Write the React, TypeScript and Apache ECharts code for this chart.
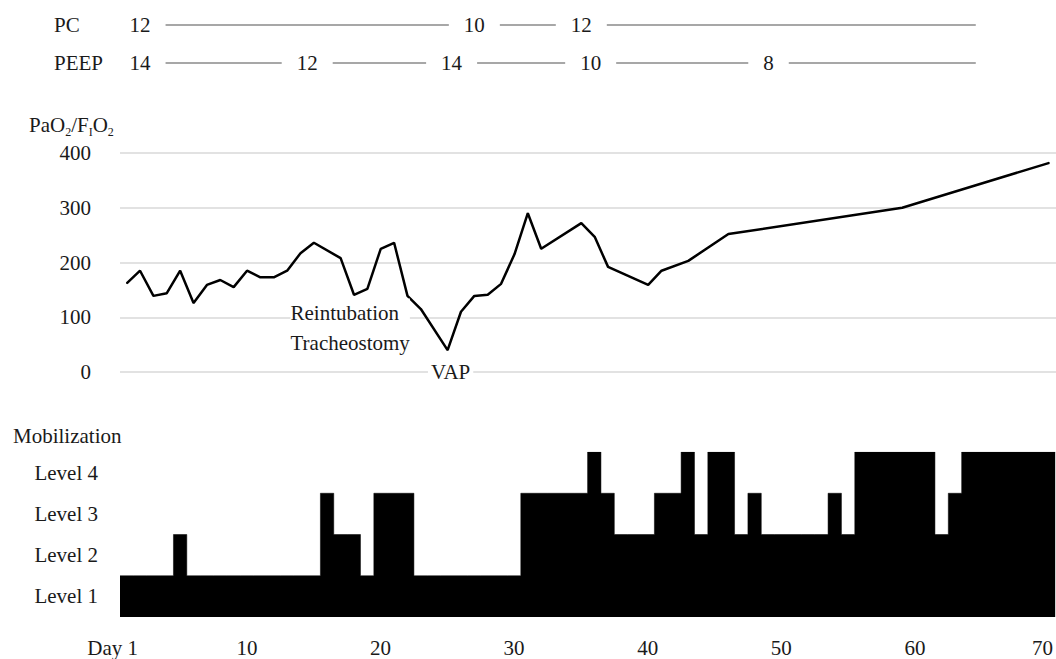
import React, { useEffect, useRef } from "react";
import * as echarts from "echarts";

const FONT = "'Liberation Serif', 'Times New Roman', serif";
const TEXT = "#1a1a1a";

// ---- data ----
const dayCategories = Array.from({ length: 70 }, (_, i) => String(i + 1));
const tickDays = [1, 10, 20, 30, 40, 50, 60, 70];

// PaO2/FiO2 per day (null = no vertex that day)
const pfRatio: (number | null)[] = [
  162, 185, 139, 144, 185, 126, 159, 168, 155, 185,
  173, 173, 185, 217, 236, null, 208, 141, 152, 225,
  236, 139, 115, null, 40, 110, 139, 141, 161, 215,
  290, 225, null, null, 272, 247, 192, null, null, 159,
  185, null, 203, null, null, 252, null, null, null, null,
  null, null, null, null, null, null, null, null, 300, null,
  null, null, null, null, null, null, null, null, null, 382,
];

// mobilization level per day
const mobilization = [
  1, 1, 1, 1, 2, 1, 1, 1, 1, 1,
  1, 1, 1, 1, 1, 3, 2, 2, 1, 3,
  3, 3, 1, 1, 1, 1, 1, 1, 1, 1,
  3, 3, 3, 3, 3, 4, 3, 2, 2, 2,
  3, 3, 4, 2, 4, 4, 2, 3, 2, 2,
  2, 2, 2, 3, 2, 4, 4, 4, 4, 4,
  4, 2, 3, 4, 4, 4, 4, 4, 4, 4,
];
const levelLabels = ["Level 1", "Level 2", "Level 3", "Level 4"];

// ventilator settings timeline (day where each setting starts)
const pcChangeDays = [2, 27, 35];
const pcSettings = [12, 10, 12];
const peepChangeDays = [2, 14.5, 25.3, 35.7, 49];
const peepSettings = [14, 12, 14, 10, 8];
const ventTimelineEnd = 64.5;

// annotations attached to days
const annotations = [
  { day: 22, text: "Reintubation\nTracheostomy", kind: "left" },
  { day: 25, text: "VAP", kind: "below" },
];

export default function App() {
  const ref = useRef<HTMLDivElement>(null);
  useEffect(() => {
    if (!ref.current) return;
    const chart = echarts.init(ref.current, undefined, { renderer: "svg" });

    const lineData = pfRatio.map((v, i) => {
      const a = annotations.find((x) => x.day - 1 === i);
      if (!a || v === null) return v;
      if (a.kind === "left") {
        return {
          value: v,
          label: {
            show: true,
            position: "bottom",
            distance: 2,
            align: "left",
            offset: [-117, 0],
            formatter: a.text,
            fontFamily: FONT,
            fontSize: 21,
            lineHeight: 30,
            color: TEXT,
            backgroundColor: "#fff",
          },
        };
      }
      return {
        value: v,
        label: {
          show: true,
          position: "bottom",
          distance: 10,
          offset: [3, 0],
          formatter: a.text,
          fontFamily: FONT,
          fontSize: 21,
          lineHeight: 22,
          color: TEXT,
          backgroundColor: "#fff",
          padding: [0, 3],
        },
      };
    });

    // each day occupies [i, i+1) on the hidden value axis; step series fills the band
    const mobilizationSteps = mobilization
      .map((v, i) => [i, v])
      .concat([[mobilization.length, mobilization[mobilization.length - 1]]]);

    const timelineLine = (name: string, start: number) => ({
      type: "line",
      xAxisIndex: 0,
      yAxisIndex: 0,
      data: [
        [start, name],
        [ventTimelineEnd, name],
      ],
      symbol: "none",
      lineStyle: { color: "#8a8a8a", width: 1.5 },
      silent: true,
      z: 2,
    });

    const timelineLabels = [
      ...pcChangeDays.map((d, i) => [d, "PC", pcSettings[i]]),
      ...peepChangeDays.map((d, i) => [d, "PEEP", peepSettings[i]]),
    ];

    const option: any = {
      animation: false,
      backgroundColor: "#fff",
      textStyle: { fontFamily: FONT },
      title: [
        {
          text: "{n|PaO}{s|2}{n|/F}{s|I}{n|O}{s|2}",
          left: 24,
          top: 107,
          textStyle: {
            fontWeight: "normal",
            rich: {
              n: {
                fontFamily: FONT,
                fontSize: 21,
                fontWeight: "normal",
                lineHeight: 26,
                color: TEXT,
              },
              s: {
                fontFamily: FONT,
                fontSize: 12,
                fontWeight: "normal",
                lineHeight: 12,
                verticalAlign: "bottom",
                color: TEXT,
              },
            },
          },
        },
        {
          text: "Mobilization",
          left: 8,
          top: 420,
          textStyle: { fontFamily: FONT, fontSize: 21, fontWeight: "normal", color: TEXT },
        },
      ],
      grid: [
        { left: 120, right: 0, top: 6, height: 76 },
        { left: 120, right: 0, top: 153, height: 219 },
        { left: 120, right: 0, top: 452, height: 165 },
      ],
      xAxis: [
        { type: "value", gridIndex: 0, min: 0.5, max: 70.5, show: false },
        {
          type: "category",
          gridIndex: 1,
          data: dayCategories,
          show: false,
          boundaryGap: true,
        },
        {
          type: "category",
          gridIndex: 2,
          data: dayCategories,
          boundaryGap: true,
          axisLine: { show: false },
          axisTick: { show: false },
          splitLine: { show: false },
          axisLabel: {
            interval: (idx: number) => tickDays.includes(idx + 1),
            formatter: (v: string, idx: number) =>
              idx === 0 ? "{d|Day " + v + "}" : idx === 69 ? "{e|" + v + "}" : v,
            fontFamily: FONT,
            fontSize: 21,
            color: TEXT,
            margin: 20,
            rich: {
              d: { fontFamily: FONT, fontSize: 21, color: TEXT, padding: [0, 28, 0, 0] },
              e: { fontFamily: FONT, fontSize: 21, color: TEXT, padding: [0, 12, 0, 0] },
            },
          },
        },
        {
          type: "value",
          gridIndex: 2,
          min: 0,
          max: mobilization.length,
          show: false,
        },
      ],
      yAxis: [
        {
          type: "category",
          gridIndex: 0,
          data: ["PEEP", "PC"],
          axisLine: { show: false },
          axisTick: { show: false },
          axisLabel: {
            align: "left",
            margin: 66,
            fontFamily: FONT,
            fontSize: 21,
            color: TEXT,
          },
        },
        {
          type: "value",
          gridIndex: 1,
          min: 0,
          max: 400,
          interval: 100,
          axisLine: { show: false },
          axisTick: { show: false },
          axisLabel: { margin: 29, fontFamily: FONT, fontSize: 21, color: TEXT },
          splitLine: { lineStyle: { color: "#d9d9d9", width: 1.5 } },
        },
        {
          type: "value",
          gridIndex: 2,
          min: 0,
          max: 4,
          show: false,
          position: "right",
        },
        {
          type: "category",
          gridIndex: 2,
          data: levelLabels,
          position: "left",
          axisLine: { show: false },
          axisTick: { show: false },
          splitLine: { show: false },
          axisLabel: { margin: 22, fontFamily: FONT, fontSize: 21, color: TEXT },
        },
      ],
      series: [
        timelineLine("PC", pcChangeDays[0]),
        timelineLine("PEEP", peepChangeDays[0]),
        {
          type: "scatter",
          xAxisIndex: 0,
          yAxisIndex: 0,
          data: timelineLabels,
          symbol: "circle",
          symbolSize: 1,
          itemStyle: { color: "#fff", opacity: 1 },
          z: 5,
          silent: true,
          label: {
            show: true,
            position: "inside",
            formatter: (p: any) => String(p.value[2]),
            fontFamily: FONT,
            fontSize: 21,
            color: TEXT,
            opacity: 1,
            backgroundColor: "#fff",
            padding: [2, 15],
          },
        },
        {
          type: "line",
          xAxisIndex: 1,
          yAxisIndex: 1,
          data: lineData,
          connectNulls: true,
          symbol: "circle",
          symbolSize: 1,
          showSymbol: true,
          itemStyle: { color: "#000" },
          lineStyle: { color: "#000", width: 2.5 },
          z: 3,
        },
        {
          type: "line",
          xAxisIndex: 3,
          yAxisIndex: 2,
          data: mobilizationSteps,
          step: "end",
          symbol: "none",
          lineStyle: { color: "#000", width: 0.5 },
          areaStyle: { color: "#000", opacity: 1 },
          silent: true,
        },
      ],
    };
    chart.setOption(option);
    return () => chart.dispose();
  }, []);

  return (
    <div
      ref={ref}
      style={{ position: "fixed", left: 0, top: 0, width: 1056, height: 659, background: "#fff" }}
    />
  );
}
